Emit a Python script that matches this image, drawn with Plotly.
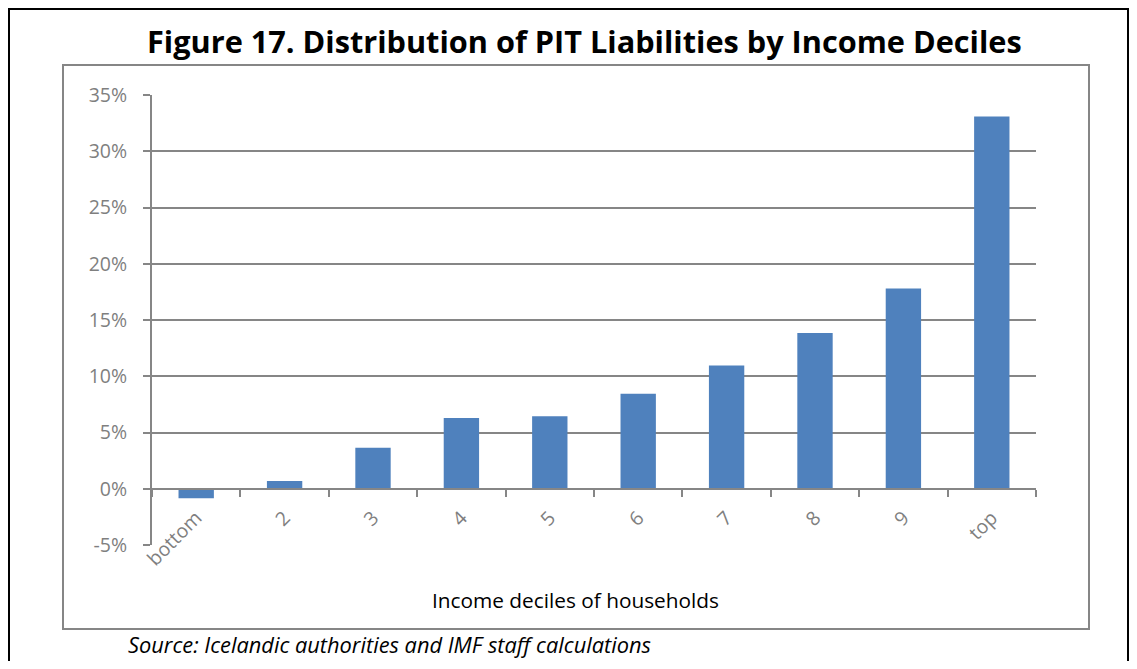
import plotly.graph_objects as go

deciles = ["bottom", "2", "3", "4", "5", "6", "7", "8", "9", "top"]
pit_share = [-0.85, 0.7, 3.65, 6.3, 6.45, 8.45, 10.95, 13.85, 17.8, 33.1]
y_ticks = [-5, 0, 5, 10, 15, 20, 25, 30, 35]
y_tick_text = ["-5%", "0%", "5%", "10%", "15%", "20%", "25%", "30%", "35%"]

# the html body keeps its default 8px margin, so the figure is made
# smaller by that much on every side and every position shifted by it
OFF = 8
W, H = 1137 - 2 * OFF, 669 - 2 * OFF
L, R, T, B = 152 - OFF, 1036 - OFF, 95 - OFF, 545 - OFF
GRID = "#868686"
LABEL = "#7f7f7f"
FONT = "Open Sans"


def px(x):
    return (x - OFF - L) / (R - L)


def py_(y):
    return (B - (y - OFF)) / (B - T)


fig = go.Figure(go.Bar(x=deciles, y=pit_share, marker_color="#4F81BD",
                       marker_line_width=0))

zero_pos = (0 - y_ticks[0]) / (y_ticks[-1] - y_ticks[0])

fig.update_layout(
    width=W, height=H,
    margin=dict(l=L, r=W - R, t=T, b=H - B),
    plot_bgcolor="white", paper_bgcolor="white",
    bargap=0.6, showlegend=False,
    font=dict(family=FONT, color=LABEL, size=19.5),
    xaxis=dict(anchor="free", position=zero_pos, showline=True, linecolor=GRID,
               linewidth=2, ticks="outside", tickson="boundaries", ticklen=7,
               tickcolor=GRID, tickwidth=2, tickangle=-45, showgrid=False,
               ticklabelstandoff=9, tickfont=dict(size=19.5, color=LABEL)),
    yaxis=dict(range=[y_ticks[0], y_ticks[-1]], tickvals=y_ticks,
               ticktext=y_tick_text, showgrid=True, gridcolor=GRID,
               gridwidth=2, zeroline=False, showline=True, linecolor=GRID,
               linewidth=2, ticks="outside", ticklen=7, tickcolor=GRID,
               tickwidth=2, ticklabelstandoff=12,
               tickfont=dict(size=19.5, color=LABEL)),
)

# outer black frame (clipped by the page edges) and inner grey chart frame
fig.add_shape(type="rect", xref="paper", yref="paper",
              x0=px(OFF + 1), x1=px(OFF + W - 1), y0=py_(700), y1=py_(OFF + 1),
              line=dict(color="black", width=2), layer="below")
fig.add_shape(type="rect", xref="paper", yref="paper",
              x0=px(63), x1=px(1089), y0=py_(629), y1=py_(65),
              line=dict(color=GRID, width=2), layer="below")

fig.add_annotation(text="<b>Figure 17. Distribution of PIT Liabilities by Income Deciles</b>",
                   xref="paper", yref="paper", x=px(584), y=py_(41),
                   xanchor="center", yanchor="middle", showarrow=False,
                   font=dict(size=30.7, color="black", family=FONT))
fig.add_annotation(text="Income deciles of households",
                   xref="paper", yref="paper", x=px(575), y=py_(600),
                   xanchor="center", yanchor="middle", showarrow=False,
                   font=dict(size=20.8, color="black", family=FONT))
fig.add_annotation(text="<i>Source: Icelandic authorities and IMF staff calculations</i>",
                   xref="paper", yref="paper", x=px(126), y=py_(644),
                   xanchor="left", yanchor="middle", showarrow=False,
                   font=dict(size=21.8, color="black", family=FONT))

fig.write_html("out.html")
